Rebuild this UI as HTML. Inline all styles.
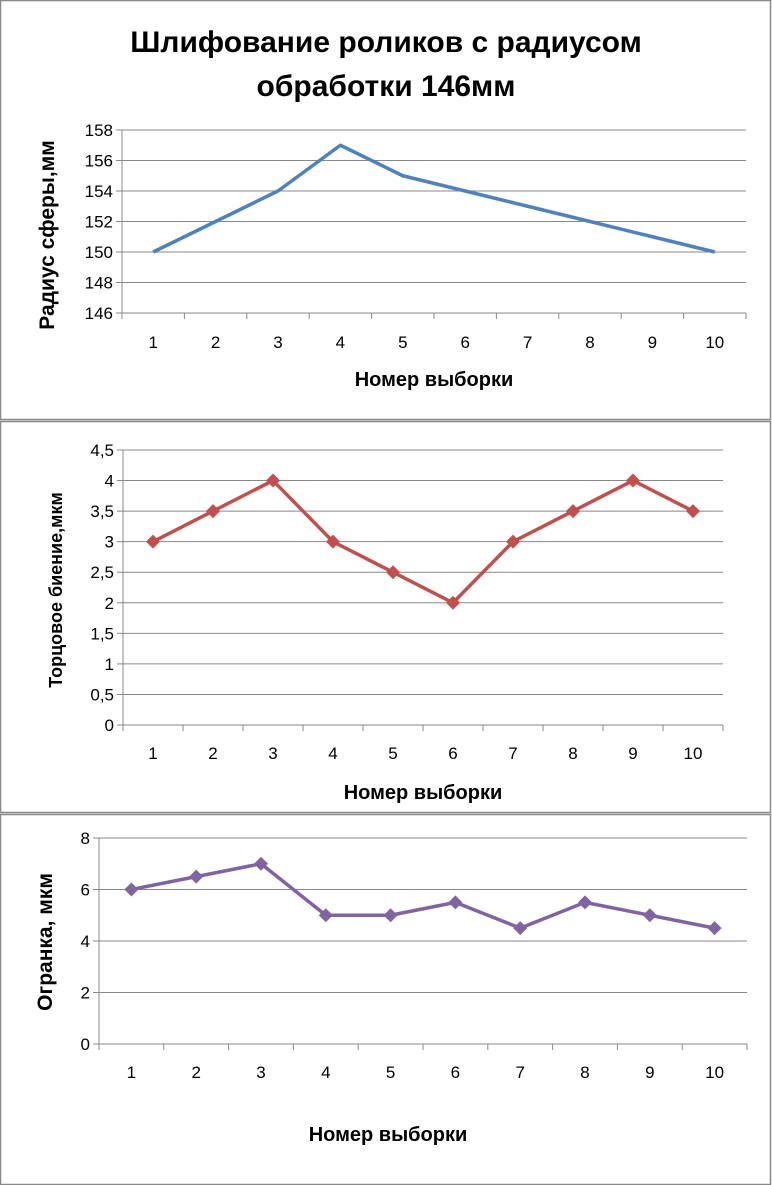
<!DOCTYPE html>
<html><head><meta charset="utf-8"><style>
body{margin:0;background:#fff;}
svg{display:block;font-family:"Liberation Sans","DejaVu Sans",sans-serif;}
</style></head><body>
<svg id="s" width="772" height="1185" viewBox="0 0 772 1185" xmlns="http://www.w3.org/2000/svg"></svg>
<script>
const categories=[1,2,3,4,5,6,7,8,9,10];
const radiusValues=[150,152,154,157,155,154,153,152,151,150];
const runoutValues=[3,3.5,4,3,2.5,2,3,3.5,4,3.5];
const facetValues=[6,6.5,7,5,5,5.5,4.5,5.5,5,4.5];
const radiusTicks=[146,148,150,152,154,156,158];
const runoutTicks=[0,0.5,1,1.5,2,2.5,3,3.5,4,4.5];
const facetTicks=[0,2,4,6,8];
const NS="http://www.w3.org/2000/svg";
const svg=document.getElementById('s');
function mk(tag,attrs,parent,txt){const e=document.createElementNS(NS,tag);for(const k in attrs)e.setAttribute(k,attrs[k]);if(txt!==undefined)e.textContent=txt;(parent||svg).appendChild(e);return e;}
// panel borders
[[0,0,420],[1,421,392],[2,814,371]].forEach(p=>{
 const r=mk('rect',{x:0.5,y:p[1]+0.5,width:770,height:p[2]-1,fill:'#fff',stroke:'#888','stroke-width':1.5});
 
 
});
function chart(o){
 const g=mk('g',{});
 
 
 const n=categories.length, step=(o.right-o.left)/n;
 const xs=i=>o.left+step*(i+0.5);
 const ys=v=>o.bottom-(v-o.min)/(o.max-o.min)*(o.bottom-o.top);
 o.ticks.forEach((t,i)=>{
  const y=ys(t);
  if(i>0){const l=mk('line',{x1:o.left,x2:o.right,y1:y,y2:y,stroke:'#888','stroke-width':1},g);}
  mk('line',{x1:o.left-6,x2:o.left,y1:y,y2:y,stroke:'#888'},g);
  const tx=mk('text',{x:o.left-9,y:y+6,'text-anchor':'end','font-size':17,fill:'#000'},g,String(t).replace('.',','));
  
 });
 mk('line',{x1:o.left,x2:o.left,y1:o.top,y2:o.bottom,stroke:'#888'},g);
 mk('line',{x1:o.left,x2:o.right,y1:o.bottom,y2:o.bottom,stroke:'#888'},g);
 for(let i=0;i<=n;i++){const x=o.left+step*i;mk('line',{x1:x,x2:x,y1:o.bottom,y2:o.bottom+6,stroke:'#888'},g);}
 categories.forEach((c,i)=>{const t=mk('text',{x:xs(i),y:o.bottom+o.catDy,'text-anchor':'middle','font-size':17},g,c);});
 const pts=o.values.map((v,i)=>xs(i)+','+ys(v)).join(' ');
 const pl=mk('polyline',{points:pts,fill:'none',stroke:o.color,'stroke-width':3.5,'stroke-linejoin':'round'},g);
 
 if(o.markers)o.values.forEach((v,i)=>{const x=xs(i),y=ys(v);const m=mk('polygon',{points:`${x},${y-7} ${x+7},${y} ${x},${y+7} ${x-7},${y}`,fill:o.color},g);});
 const xt=mk('text',{x:o.xtX,y:o.xtY,'text-anchor':'middle','font-size':20,'font-weight':'bold'},g,'Номер выборки');
 
 const yt=mk('text',{x:0,y:0,'text-anchor':'middle','font-size':o.ytSize,'font-weight':'bold',transform:`translate(${o.ytX},${o.ytY}) rotate(-90)`},g,o.ytitle);
 
}
const t1=mk('text',{x:386,y:52,'text-anchor':'middle','font-size':30,'font-weight':'bold'},null,'Шлифование роликов с  радиусом');

const t2=mk('text',{x:386,y:96,'text-anchor':'middle','font-size':30,'font-weight':'bold'},null,'обработки 146мм');

chart({name:'radius-chart',left:122,right:746,top:130,bottom:313,min:146,max:158,ticks:radiusTicks,values:radiusValues,color:'#4f81bd',markers:false,catDy:35,xtX:434,xtY:386,ytitle:'Радиус сферы,мм',ytX:54,ytY:235,ytSize:21});
chart({name:'runout-chart',left:123,right:723,top:450,bottom:725,min:0,max:4.5,ticks:runoutTicks,values:runoutValues,color:'#c0504d',markers:true,catDy:34,xtX:423,xtY:799,ytitle:'Торцовое биение,мкм',ytX:62,ytY:590,ytSize:18});
chart({name:'facet-chart',left:99,right:747,top:838,bottom:1044,min:0,max:8,ticks:facetTicks,values:facetValues,color:'#8064a2',markers:true,catDy:34,xtX:388,xtY:1141,ytitle:'Огранка, мкм',ytX:52,ytY:942,ytSize:21});
</script>
</body></html>
